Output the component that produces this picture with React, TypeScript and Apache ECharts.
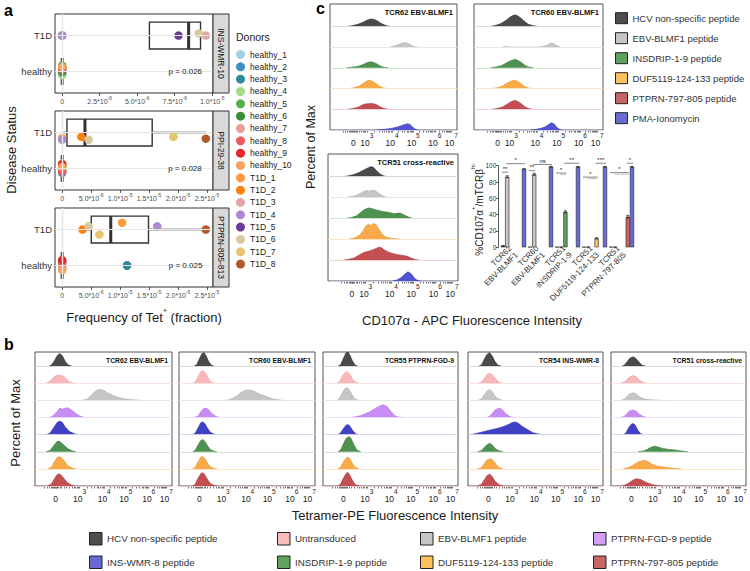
import React, { useEffect, useRef } from 'react';
import * as echarts from 'echarts';

const FONT = '"Liberation Sans", Arial, Helvetica, sans-serif';

/* ---------------- Panel a : Tet+ frequencies ---------------- */
const donorNames = ['healthy_1', 'healthy_2', 'healthy_3', 'healthy_4', 'healthy_5', 'healthy_6', 'healthy_7', 'healthy_8', 'healthy_9', 'healthy_10', 'T1D_1', 'T1D_2', 'T1D_3', 'T1D_4', 'T1D_5', 'T1D_6', 'T1D_7', 'T1D_8'];
const donorColors = ['#a6cee3', '#3f8fc5', '#2f8a9c', '#a3d98a', '#55b04a', '#3d8c3a', '#e89e96', '#ec5a5c', '#e3262a', '#f7a35c', '#fd9a3e', '#fa8010', '#e2a6a6', '#ab88d0', '#6a3d9a', '#d9c89f', '#e7c46f', '#b15928'];
const facetNames = ['INS-WMR-10', 'PPI-29-38', 'PTPRN-805-813'];
const facetPValues = ['p = 0.026', 'p = 0.028', 'p = 0.025'];
const pValueX = [8.2e-6, 2.12e-5, 2.13e-5];
const freqINS = [0, 0, 0, 0, 0, 0, 0, 0, 0, 0, null, null, 9.57e-6, 0, 7.75e-6, 9.1e-6, null, null];
const freqPPI = [0, 0, 0, 0, 0, 0, 0, 0, 0, 0, 0, 3.3e-6, null, 0, null, 4.56e-6, 1.92e-5, 2.48e-5];
const freqPTPRN = [0, 0, 1.12e-5, 0, 0, 0, 0, 0, 0, 0, 1.035e-5, 3.52e-6, null, 1.642e-5, null, 4.56e-6, 6.42e-6, 2.48e-5];
const jitterINS = [0.04, -0.06, 0.1, -0.1, 0.16, -0.02, 0.08, 0.06, 0.1, 0.12, 0, 0, 0, 0, 0, 0.06, 0, 0];
const jitterPPI = [0.1, -0.12, 0.05, 0.14, 0.07, -0.06, 0.02, -0.09, 0.12, 0.04, -0.15, -0.12, 0, -0.2, 0, -0.2, -0.12, -0.17];
const jitterPTPRN = [0.12, 0.08, 0, -0.05, 0.1, -0.1, -0.07, 0.05, 0.15, -0.13, 0.19, 0, 0, 0.09, 0, 0.09, -0.14, 0];
const ticksINS = [0, 2.5e-6, 5e-6, 7.5e-6, 1e-5];
const tickLabelsINS = ['0', '2.5*10^-6', '5.0*10^-6', '7.5*10^-6', '1.0*10^-5'];
const ticksPPI = [0, 5e-6, 1e-5, 1.5e-5, 2e-5, 2.5e-5];
const tickLabelsPPI = ['0', '5.0*10^-6', '1.0*10^-5', '1.5*10^-5', '2.0*10^-5', '2.5*10^-5'];

/* ---------------- flow histograms (x: % of panel width, h: fraction of row) ---------------- */
const flowLabels = ['0', '10^3', '10^4', '10^5', '10^6', '10^7'];
const cLabelPos = [18.3, 29, 48.8, 65.5, 82.5, 95.5];
const bLabelPos = [15, 32.5, 50.5, 66.3, 83, 95.8];

const cRowNames = ['HCV non-specific peptide', 'EBV-BLMF1 peptide', 'INSDRIP-1-9 peptide', 'DUF5119-124-133 peptide', 'PTPRN-797-805 peptide', 'PMA-Ionomycin'];
const bRowNames = ['HCV non-specific peptide', 'Untransduced', 'EBV-BLMF1 peptide', 'PTPRN-FGD-9 peptide', 'INS-WMR-8 peptide', 'INSDRIP-1-9 peptide', 'DUF5119-124-133 peptide', 'PTPRN-797-805 peptide'];
const cPanelTitles = ['TCR62 EBV-BLMF1', 'TCR60 EBV-BLMF1', 'TCR51 cross-reactive'];
const bPanelTitles = ['TCR62 EBV-BLMF1', 'TCR60 EBV-BLMF1', 'TCR55 PTPRN-FGD-9', 'TCR54 INS-WMR-8', 'TCR51 cross-reactive'];

// panel c, TCR62
const c62HCV = [[14, 0], [18, 0.04], [22, 0.1], [26, 0.2], [29, 0.3], [32, 0.36], [35, 0.33], [38, 0.24], [41, 0.12], [44, 0.04], [47, 0]];
const c62EBV = [[47, 0], [50, 0.04], [53, 0.1], [56, 0.17], [59, 0.21], [61, 0.19], [63, 0.12], [65, 0.05], [67, 0.01], [69, 0]];
const c62INS = [[13, 0], [17, 0.03], [20, 0.05], [23, 0.09], [26, 0.16], [29, 0.25], [32, 0.29], [34, 0.27], [37, 0.19], [40, 0.08], [43, 0.02], [46, 0]];
const c62DUF = [[15, 0], [19, 0.04], [23, 0.12], [26, 0.24], [29, 0.36], [31, 0.4], [33, 0.37], [36, 0.25], [39, 0.11], [42, 0.03], [45, 0]];
const c62PTP = [[14, 0], [18, 0.04], [22, 0.1], [25, 0.19], [27, 0.25], [30, 0.27], [33, 0.28], [36, 0.24], [38, 0.17], [41, 0.07], [44, 0.02], [46, 0]];
const c62PMA = [[37, 0], [41, 0.02], [45, 0.05], [49, 0.09], [53, 0.14], [56, 0.2], [59, 0.27], [61, 0.3], [63, 0.27], [65, 0.15], [67, 0.04], [69, 0]];
// panel c, TCR60
const c60HCV = [[13, 0], [17, 0.05], [21, 0.14], [25, 0.3], [28, 0.45], [31, 0.55], [33, 0.54], [36, 0.42], [39, 0.25], [42, 0.1], [46, 0.03], [49, 0]];
const c60EBV = [[22, 0], [25, 0.03], [28, 0], [50, 0], [54, 0.03], [57, 0.1], [59, 0.17], [61, 0.2], [63, 0.12], [65, 0.04], [67, 0]];
const c60INS = [[13, 0], [17, 0.04], [21, 0.1], [24, 0.2], [27, 0.3], [30, 0.38], [32, 0.4], [34, 0.36], [37, 0.25], [40, 0.1], [43, 0.03], [46, 0]];
const c60DUF = [[14, 0], [18, 0.04], [22, 0.12], [25, 0.24], [28, 0.34], [31, 0.4], [33, 0.38], [36, 0.26], [39, 0.11], [42, 0.03], [45, 0]];
const c60PTP = [[14, 0], [18, 0.04], [22, 0.11], [25, 0.22], [28, 0.34], [30, 0.4], [32, 0.42], [34, 0.38], [37, 0.25], [40, 0.1], [43, 0.02], [46, 0]];
const c60PMA = [[44, 0], [48, 0.03], [52, 0.08], [55, 0.15], [58, 0.27], [60, 0.35], [62, 0.3], [64, 0.15], [66, 0.04], [68, 0]];
// panel c, TCR51
const c51HCV = [[12, 0], [16, 0.04], [20, 0.1], [24, 0.2], [28, 0.33], [31, 0.42], [33, 0.47], [35, 0.44], [37, 0.3], [40, 0.12], [43, 0.03], [45, 0]];
const c51EBV = [[14, 0], [18, 0.04], [22, 0.1], [25, 0.2], [28, 0.3], [30, 0.33], [32, 0.3], [34, 0.35], [36, 0.33], [38, 0.25], [40, 0.15], [43, 0.04], [46, 0]];
const c51INS = [[14, 0], [18, 0.04], [22, 0.12], [25, 0.28], [28, 0.42], [31, 0.5], [33, 0.48], [36, 0.42], [39, 0.38], [42, 0.33], [45, 0.3], [48, 0.27], [51, 0.22], [54, 0.25], [56, 0.24], [59, 0.15], [62, 0.06], [65, 0]];
const c51DUF = [[16, 0], [20, 0.05], [24, 0.18], [27, 0.4], [29, 0.62], [31, 0.72], [33, 0.66], [35, 0.75], [37, 0.7], [39, 0.5], [41, 0.3], [44, 0.12], [48, 0.05], [52, 0.02], [56, 0]];
const c51PTP = [[12, 0], [16, 0.04], [20, 0.1], [24, 0.25], [28, 0.38], [31, 0.42], [34, 0.48], [37, 0.56], [39, 0.62], [41, 0.6], [43, 0.5], [46, 0.4], [49, 0.33], [52, 0.28], [55, 0.25], [58, 0.22], [61, 0.18], [64, 0.1], [67, 0.03], [70, 0]];
const c51PMA = [[50, 0], [53, 0.05], [56, 0.15], [59, 0.32], [61.5, 0.44], [64, 0.35], [66, 0.18], [68, 0.06], [71, 0]];

// panel b, TCR62
const b62HCV = [[10, 0], [12, 0.08], [14, 0.3], [16, 0.6], [18, 0.75], [20, 0.62], [22, 0.3], [24, 0.1], [27, 0]];
const b62UNT = [[7, 0], [10, 0.08], [13, 0.3], [15, 0.45], [17, 0.5], [19, 0.47], [21, 0.42], [23, 0.25], [25, 0.1], [28, 0.02], [30, 0]];
const b62EBV = [[34, 0], [38, 0.08], [41, 0.3], [44, 0.55], [47, 0.65], [50, 0.6], [53, 0.45], [57, 0.3], [61, 0.18], [65, 0.1], [70, 0.05], [76, 0.02], [79, 0]];
const b62FGD = [[10, 0], [13, 0.1], [16, 0.35], [18, 0.55], [20, 0.5], [22, 0.55], [24, 0.58], [26, 0.48], [29, 0.3], [32, 0.12], [35, 0.03], [37, 0]];
const b62WMR = [[8, 0], [11, 0.1], [14, 0.45], [16, 0.7], [18, 0.8], [20, 0.72], [22, 0.45], [25, 0.2], [28, 0.08], [31, 0]];
const b62INS = [[8, 0], [11, 0.08], [14, 0.4], [16, 0.6], [17.5, 0.63], [19, 0.55], [21, 0.4], [24, 0.18], [27, 0.06], [30, 0]];
const b62DUF = [[9, 0], [12, 0.1], [14, 0.4], [16, 0.65], [18, 0.72], [20, 0.6], [22, 0.4], [24, 0.18], [27, 0.05], [30, 0]];
const b62PTP = [[9, 0], [12, 0.12], [14, 0.4], [16, 0.65], [17.5, 0.72], [19, 0.65], [21, 0.45], [23, 0.25], [26, 0.08], [29, 0]];
// panel b, TCR60
const b60HCV = [[11, 0], [13, 0.1], [15, 0.45], [17, 0.75], [18.5, 0.8], [20, 0.6], [22, 0.25], [24, 0.06], [26, 0]];
const b60UNT = [[10, 0], [12, 0.1], [14, 0.4], [16, 0.7], [18, 0.75], [20, 0.55], [22, 0.25], [24, 0.06], [27, 0]];
const b60EBV = [[33, 0], [37, 0.05], [40, 0.15], [43, 0.3], [46, 0.48], [49, 0.6], [52, 0.62], [55, 0.55], [58, 0.42], [62, 0.3], [66, 0.18], [70, 0.08], [75, 0.02], [78, 0]];
const b60FGD = [[11, 0], [14, 0.1], [16, 0.35], [18, 0.52], [20, 0.56], [22, 0.45], [24, 0.25], [27, 0.08], [30, 0]];
const b60WMR = [[10, 0], [12, 0.1], [14, 0.4], [16, 0.7], [17.5, 0.75], [19, 0.65], [21, 0.38], [23, 0.15], [26, 0.03], [28, 0]];
const b60INS = [[10, 0], [12, 0.1], [14, 0.4], [16, 0.66], [17.5, 0.72], [19, 0.62], [21, 0.36], [23, 0.14], [26, 0.03], [28, 0]];
const b60DUF = [[10, 0], [12, 0.1], [14, 0.42], [16, 0.68], [17.5, 0.72], [19, 0.6], [21, 0.34], [23, 0.12], [26, 0.03], [28, 0]];
const b60PTP = [[10, 0], [12, 0.12], [14, 0.45], [16, 0.72], [17.5, 0.78], [19, 0.66], [21, 0.38], [23, 0.15], [26, 0.03], [28, 0]];
// panel b, TCR55
const b55HCV = [[11, 0], [13, 0.1], [15, 0.45], [17, 0.78], [18.5, 0.85], [20, 0.65], [22, 0.28], [24, 0.07], [26, 0]];
const b55UNT = [[10, 0], [12, 0.1], [14, 0.38], [16, 0.62], [18, 0.7], [20, 0.52], [22, 0.25], [24, 0.07], [27, 0]];
const b55EBV = [[10, 0], [12, 0.1], [14, 0.4], [16, 0.68], [18, 0.75], [20, 0.56], [22, 0.26], [24, 0.07], [27, 0]];
const b55FGD = [[20, 0], [24, 0.05], [28, 0.12], [32, 0.25], [36, 0.4], [39, 0.55], [42, 0.68], [44.5, 0.75], [47, 0.68], [49, 0.5], [51, 0.3], [53, 0.12], [56, 0.03], [60, 0]];
const b55WMR = [[11, 0], [13, 0.1], [15, 0.35], [17, 0.55], [18.5, 0.6], [20, 0.5], [22, 0.25], [24, 0.07], [26, 0]];
const b55INS = [[11, 0], [13, 0.1], [15, 0.45], [17, 0.78], [19.5, 0.9], [21, 0.75], [23, 0.4], [25, 0.12], [28, 0]];
const b55DUF = [[11, 0], [13, 0.1], [15, 0.4], [17, 0.62], [18.5, 0.7], [20, 0.58], [22, 0.3], [24, 0.08], [27, 0]];
const b55PTP = [[11, 0], [13, 0.12], [15, 0.45], [17, 0.72], [18.5, 0.8], [20, 0.62], [22, 0.3], [24, 0.08], [27, 0]];
// panel b, TCR54
const b54HCV = [[8, 0], [10, 0.1], [12, 0.4], [14, 0.7], [16, 0.8], [18, 0.6], [20, 0.28], [22, 0.08], [25, 0]];
const b54UNT = [[7, 0], [10, 0.08], [12, 0.3], [14, 0.52], [16.5, 0.6], [18.5, 0.48], [21, 0.22], [23, 0.07], [26, 0]];
const b54EBV = [[7, 0], [10, 0.08], [12, 0.32], [14, 0.55], [16, 0.65], [18, 0.52], [20, 0.25], [23, 0.07], [26, 0]];
const b54FGD = [[14, 0], [16, 0.08], [18, 0.25], [20, 0.45], [22, 0.53], [24, 0.55], [26, 0.42], [28, 0.22], [31, 0.06], [34, 0]];
const b54WMR = [[1, 0], [5, 0.05], [10, 0.15], [15, 0.25], [19, 0.32], [23, 0.4], [27, 0.5], [30, 0.6], [33, 0.72], [35, 0.75], [37, 0.68], [40, 0.5], [44, 0.3], [48, 0.12], [52, 0.04], [56, 0]];
const b54INS = [[7, 0], [10, 0.08], [12, 0.25], [14, 0.42], [16, 0.5], [18, 0.4], [20, 0.2], [23, 0.06], [26, 0]];
const b54DUF = [[7, 0], [10, 0.08], [12, 0.3], [14, 0.52], [16.5, 0.6], [18.5, 0.5], [21, 0.25], [23, 0.08], [26, 0]];
const b54PTP = [[7, 0], [10, 0.1], [12, 0.35], [14, 0.6], [16, 0.7], [18, 0.55], [20, 0.28], [23, 0.08], [26, 0]];
// panel b, TCR51
const b51HCV = [[8, 0], [10, 0.08], [12, 0.28], [14, 0.48], [16.5, 0.56], [18.5, 0.46], [21, 0.22], [23, 0.07], [26, 0]];
const b51UNT = [[7, 0], [10, 0.08], [12, 0.25], [14, 0.4], [16.5, 0.47], [19, 0.38], [21, 0.2], [24, 0.06], [27, 0]];
const b51EBV = [[7, 0], [10, 0.08], [12, 0.25], [14, 0.4], [16.5, 0.45], [19, 0.38], [21, 0.22], [24, 0.1], [28, 0.05], [33, 0.03], [38, 0.01], [41, 0]];
const b51FGD = [[7, 0], [10, 0.08], [12, 0.25], [14, 0.4], [16.5, 0.45], [19, 0.36], [21, 0.2], [24, 0.06], [27, 0]];
const b51WMR = [[9, 0], [11, 0.1], [13, 0.4], [15, 0.62], [16.5, 0.66], [18, 0.55], [20, 0.25], [22, 0.06], [24, 0]];
const b51INS = [[20, 0], [24, 0.05], [27, 0.15], [30, 0.28], [32.5, 0.33], [35, 0.28], [38, 0.2], [42, 0.15], [46, 0.12], [50, 0.08], [54, 0.03], [57, 0]];
const b51DUF = [[9, 0], [13, 0.08], [17, 0.25], [20, 0.4], [23, 0.48], [25, 0.5], [28, 0.4], [31, 0.25], [35, 0.15], [40, 0.1], [45, 0.05], [50, 0.01], [52, 0]];
const b51PTP = [[8, 0], [11, 0.08], [14, 0.22], [17, 0.38], [19, 0.42], [22, 0.38], [25, 0.25], [28, 0.15], [31, 0.08], [35, 0.02], [38, 0]];

const cCurves = [
  [c62HCV, c62EBV, c62INS, c62DUF, c62PTP, c62PMA],
  [c60HCV, c60EBV, c60INS, c60DUF, c60PTP, c60PMA],
  [c51HCV, c51EBV, c51INS, c51DUF, c51PTP, c51PMA],
];
const bCurves = [
  [b62HCV, b62UNT, b62EBV, b62FGD, b62WMR, b62INS, b62DUF, b62PTP],
  [b60HCV, b60UNT, b60EBV, b60FGD, b60WMR, b60INS, b60DUF, b60PTP],
  [b55HCV, b55UNT, b55EBV, b55FGD, b55WMR, b55INS, b55DUF, b55PTP],
  [b54HCV, b54UNT, b54EBV, b54FGD, b54WMR, b54INS, b54DUF, b54PTP],
  [b51HCV, b51UNT, b51EBV, b51FGD, b51WMR, b51INS, b51DUF, b51PTP],
];

/* ---------------- panel c bar chart ---------------- */
const barCats = ['TCR62\nEBV-BLMF1', 'TCR60\nEBV-BLMF1', 'TCR51\nINSDRIP-1-9', 'TCR51\nDUF5119-124-133', 'TCR51\nPTPRN-797-805'];
const barHCV = [1.8, 0.5, 0.5, 0.5, 0.5];
const barEBV = [86.5, 89.5, 0.5, 0.5, 0.5];
const barINS = [null, null, 43.6, null, null];
const barDUF = [null, null, null, 11, null];
const barPTP = [null, null, null, null, 37.5];
const barPMA = [96, 98.8, 98.8, 98.8, 98.8];
const errHCV = [0.3, 0, 0, 0, 0];
const errEBV = [1.2, 1.3, 0, 0, 0];
const errINS = [0, 0, 1.2, 0, 0];
const errDUF = [0, 0, 0, 0.8, 0];
const errPTP = [0, 0, 0, 0, 1.6];
const errPMA = [0.4, 0.3, 0.3, 0.3, 0.3];
// [group, fromBar, toBar, y, label, dark(1)/grey(0)]
const sigBrackets = [
  [0, 0, 1, 92, '**', 1], [0, 1, 5, 102.5, '*', 1],
  [1, 0, 1, 94, '**', 1], [1, 1, 5, 101.5, 'ns', 1],
  [2, 0, 2, 91, '*', 1], [2, 1, 2, 89, '', 0], [2, 2, 5, 103, '**', 1],
  [3, 0, 3, 86, '*', 1], [3, 1, 3, 84, '', 0], [3, 3, 5, 103, '***', 1],
  [4, 0, 4, 91.5, '*', 1], [4, 1, 4, 89.5, '', 0], [4, 4, 5, 103, '*', 1],
];

/* ---------------- styles ---------------- */
const condFill: Record<string, string> = {
  'HCV non-specific peptide': '#4a4a4a', 'EBV-BLMF1 peptide': '#c6c6c6', 'INSDRIP-1-9 peptide': '#4f9150',
  'DUF5119-124-133 peptide': '#f9aa48', 'PTPRN-797-805 peptide': '#c34f52', 'PMA-Ionomycin': '#5252d4',
  'Untransduced': '#f7b8b8', 'PTPRN-FGD-9 peptide': '#c98cf3', 'INS-WMR-8 peptide': '#4040c4',
};
const condEdge: Record<string, string> = {
  'HCV non-specific peptide': '#2a2a2a', 'EBV-BLMF1 peptide': '#a8a8a8', 'INSDRIP-1-9 peptide': '#3a783a',
  'DUF5119-124-133 peptide': '#e8912e', 'PTPRN-797-805 peptide': '#a63b3e', 'PMA-Ionomycin': '#3a3ab8',
  'Untransduced': '#eea3a3', 'PTPRN-FGD-9 peptide': '#b172e4', 'INS-WMR-8 peptide': '#2c2cac',
};
const condTint: Record<string, string> = {
  'HCV non-specific peptide': '#d6d6d6', 'EBV-BLMF1 peptide': '#e4e4e4', 'INSDRIP-1-9 peptide': '#cfe2cf',
  'DUF5119-124-133 peptide': '#fde2bf', 'PTPRN-797-805 peptide': '#efcdcd', 'PMA-Ionomycin': '#d2d2f4',
  'Untransduced': '#fbdede', 'PTPRN-FGD-9 peptide': '#ebdcfa', 'INS-WMR-8 peptide': '#d2d2f2',
};
const legendFill: Record<string, string> = {
  'HCV non-specific peptide': '#4d4d4d', 'EBV-BLMF1 peptide': '#c6c6c6', 'INSDRIP-1-9 peptide': '#5ea25e',
  'DUF5119-124-133 peptide': '#fbc25c', 'PTPRN-797-805 peptide': '#c66666', 'PMA-Ionomycin': '#6b6bd6',
  'Untransduced': '#f9bcbc', 'PTPRN-FGD-9 peptide': '#d49ef8', 'INS-WMR-8 peptide': '#6a6ad2',
};

function quantile(s: number[], p: number) {
  const pos = (s.length - 1) * p;
  const lo = Math.floor(pos), hi = Math.ceil(pos);
  return s[lo] + (s[hi] - s[lo]) * (pos - lo);
}
function boxStats(vals: number[]) {
  const s = [...vals].sort((a, b) => a - b);
  const q1 = quantile(s, 0.25), med = quantile(s, 0.5), q3 = quantile(s, 0.75);
  const iqr = q3 - q1;
  const inside = s.filter(v => v >= q1 - 1.5 * iqr && v <= q3 + 1.5 * iqr);
  const out = s.filter(v => v < q1 - 1.5 * iqr || v > q3 + 1.5 * iqr);
  return { q1, med, q3, lo: Math.min(...inside), hi: Math.max(...inside), out };
}
function supLabel(s: string) {
  const [a, b] = s.split('^');
  return b === undefined ? `{n|${a}}` : `{n|${a}}{s|${b}}`;
}
function flowTickValues(pos: number[]) {
  const out: number[] = [];
  const z = pos[0];
  [-8, -6, -4.5, -3.2, -2.2, -1.4, -0.7, 0, 0.7, 1.4, 2.2, 3.2, 4.5, 6].forEach(d => out.push(z + d));
  const d1 = pos[2] - pos[1];
  for (let m = 2; m <= 9; m++) { const v = pos[1] - d1 + d1 * Math.log10(m); if (v > z + 7) out.push(v); }
  for (let k = 1; k < pos.length; k++) {
    out.push(pos[k]);
    if (k < pos.length - 1) for (let m = 2; m <= 9; m++) out.push(pos[k] + (pos[k + 1] - pos[k]) * Math.log10(m));
  }
  return out.filter(v => v > 0.5 && v < 99.5);
}

function txt(x: number, y: number, text: string, size: number, o: any = {}) {
  const align = o.align || 'center', va = o.va || 'middle';
  return {
    type: 'text', x, y, rotation: o.rot || 0, silent: true, z: 100,
    style: {
      text, fontSize: size, fontFamily: FONT, fontWeight: o.bold ? 'bold' : 'normal', fill: o.color || '#1a1a1a',
      align, textAlign: align, verticalAlign: va, textVerticalAlign: va, rich: o.rich,
    },
  };
}

function buildOption() {
  const grids: any[] = [], xAxes: any[] = [], yAxes: any[] = [], series: any[] = [], graphics: any[] = [], legends: any[] = [];

  /* ----- panel a ----- */
  const aFreq = [freqINS, freqPPI, freqPTPRN];
  const aJit = [jitterINS, jitterPPI, jitterPTPRN];
  const aTicks = [ticksINS, ticksPPI, ticksPPI];
  const aLabels = [tickLabelsINS, tickLabelsPPI, tickLabelsPPI];
  const aTop = [14, 111, 208];
  const A_LEFT = 55, A_W = 158, A_H = 79, STRIP_W = 16;

  for (let f = 0; f < 3; f++) {
    const gi = grids.length;
    grids.push({ left: A_LEFT, top: aTop[f], width: A_W, height: A_H, show: true, backgroundColor: '#fff', borderColor: '#333', borderWidth: 1, outerBoundsMode: 'none' });
    const vals = aFreq[f].filter(v => v != null) as number[];
    const vmax = Math.max(...vals);
    const ticks = aTicks[f], labels = aLabels[f];
    const minor = ticks.slice(0, -1).map((t, i) => (t + ticks[i + 1]) / 2);
    xAxes.push({
      type: 'value', gridIndex: gi, min: -0.05 * vmax, max: 1.05 * vmax,
      axisLine: { show: false }, splitLine: { show: false },
      axisTick: { show: true, customValues: ticks, length: 3, lineStyle: { color: '#333', width: 0.8 } },
      axisLabel: {
        show: true, customValues: ticks, margin: 2, color: '#4d4d4d', fontFamily: FONT,
        formatter: (v: number) => { const i = ticks.findIndex(t => Math.abs(t - v) < vmax * 1e-6); return i < 0 ? '' : supLabel(labels[i]); },
        rich: {
          n: { fontSize: 7, lineHeight: 10, verticalAlign: 'bottom', color: '#4d4d4d', fontFamily: FONT },
          s: { fontSize: 5, lineHeight: 5, verticalAlign: 'top', color: '#4d4d4d', fontFamily: FONT },
        },
      },
    });
    yAxes.push({
      type: 'value', gridIndex: gi, min: 0.4, max: 2.6,
      axisLine: { show: false }, splitLine: { show: false },
      axisTick: { show: true, customValues: [1, 2], length: 3, lineStyle: { color: '#333', width: 0.8 } },
      axisLabel: { show: true, customValues: [1, 2], margin: 3, fontSize: 9.5, color: '#333', fontFamily: FONT, formatter: (v: number) => (v === 1 ? 'healthy' : 'T1D') },
    });
    series.push({
      type: 'scatter', xAxisIndex: gi, yAxisIndex: gi, data: [], silent: true, z: 1,
      markLine: {
        silent: true, symbol: ['none', 'none'], label: { show: false }, animation: false,
        data: [
          ...minor.map(v => ({ xAxis: v, lineStyle: { color: '#f0f0f0', width: 0.6, type: 'solid' } })),
          ...ticks.map(v => ({ xAxis: v, lineStyle: { color: '#e6e6e6', width: 1.1, type: 'solid' } })),
          { yAxis: 1, lineStyle: { color: '#e6e6e6', width: 1.1, type: 'solid' } },
          { yAxis: 2, lineStyle: { color: '#e6e6e6', width: 1.1, type: 'solid' } },
        ],
      },
    });
    const boxData: number[][] = [], outData: number[][] = [];
    ([[1, 0, 10], [2, 10, 18]] as number[][]).forEach(([cy, s, e]) => {
      const v = aFreq[f].slice(s, e).filter(x => x != null) as number[];
      const st = boxStats(v);
      boxData.push([cy, st.lo, st.q1, st.med, st.q3, st.hi]);
      st.out.forEach(o => outData.push([o, cy]));
    });
    series.push({
      type: 'custom', xAxisIndex: gi, yAxisIndex: gi, data: boxData, silent: true, z: 2, encode: { x: [1, 2, 3, 4, 5], y: 0 },
      renderItem: (params: any, api: any) => {
        const y = api.value(0);
        const lo = api.value(1), q1 = api.value(2), med = api.value(3), q3 = api.value(4), hi = api.value(5);
        const c = (v: number) => api.coord([v, y]);
        const half = Math.abs(api.size([0, 0.75])[1]) / 2;
        const cy = c(med)[1];
        const st = { stroke: '#333', lineWidth: 1.4 };
        const ch: any[] = [];
        if (lo < q1) ch.push({ type: 'line', shape: { x1: c(lo)[0], y1: cy, x2: c(q1)[0], y2: cy }, style: st });
        if (hi > q3) ch.push({ type: 'line', shape: { x1: c(q3)[0], y1: cy, x2: c(hi)[0], y2: cy }, style: st });
        ch.push({ type: 'rect', shape: { x: c(q1)[0], y: cy - half, width: c(q3)[0] - c(q1)[0], height: 2 * half }, style: { stroke: '#333', lineWidth: 1.4, fill: '#fff' } });
        ch.push({ type: 'line', shape: { x1: c(med)[0], y1: cy - half, x2: c(med)[0], y2: cy + half }, style: { stroke: '#333', lineWidth: 3 } });
        return { type: 'group', children: ch };
      },
    });
    series.push({ type: 'scatter', xAxisIndex: gi, yAxisIndex: gi, data: outData, symbolSize: 8.5, itemStyle: { color: '#1a1a1a' }, silent: true, z: 3 });
    donorNames.forEach((name, d) => {
      const v = aFreq[f][d];
      if (v == null) return;
      const g = d < 10 ? 1 : 2;
      series.push({ type: 'scatter', name, xAxisIndex: gi, yAxisIndex: gi, data: [[v, g + aJit[f][d]]], symbolSize: 8.5, itemStyle: { color: donorColors[d], opacity: 1 }, silent: true, z: 4 });
    });
    series.push({
      type: 'custom', xAxisIndex: gi, yAxisIndex: gi, data: [[pValueX[f], 1]], silent: true, z: 5,
      renderItem: (params: any, api: any) => {
        const p = api.coord([api.value(0), api.value(1)]);
        return { type: 'text', x: p[0], y: p[1], style: { text: facetPValues[f], fontSize: 8, fontFamily: FONT, fill: '#1a1a1a', align: 'center', textAlign: 'center', verticalAlign: 'middle', textVerticalAlign: 'middle' } };
      },
    });
    graphics.push({ type: 'rect', shape: { x: A_LEFT + A_W, y: aTop[f], width: STRIP_W, height: A_H }, style: { fill: '#d9d9d9', stroke: '#333', lineWidth: 1 }, silent: true, z: 99 });
    graphics.push(txt(A_LEFT + A_W + STRIP_W / 2, aTop[f] + A_H / 2, facetNames[f], 8.5, { rot: -Math.PI / 2 }));
  }
  legends.push({
    orient: 'vertical', left: 236, top: 50, itemWidth: 9, itemHeight: 9, itemGap: 3.33, icon: 'circle', selectedMode: false, padding: 0,
    textStyle: { fontSize: 8.5, color: '#1a1a1a', fontFamily: FONT },
    data: donorNames.map((n, i) => ({ name: n, itemStyle: { color: donorColors[i], borderWidth: 0 } })),
  });

  /* ----- flow panels ----- */
  const addFlowPanel = (rect: number[], rows: string[], curves: number[][][], ymax: number, labelPos: number[], title: string, titleSize: number) => {
    const gi = grids.length;
    grids.push({ left: rect[0], top: rect[1], width: rect[2], height: rect[3], show: true, backgroundColor: '#fff', borderColor: '#555', borderWidth: 1, outerBoundsMode: 'none' });
    const ticks = flowTickValues(labelPos);
    xAxes.push({
      type: 'value', gridIndex: gi, min: 0, max: 100, axisLine: { show: false }, splitLine: { show: false },
      axisTick: { show: true, customValues: ticks, length: 2.5, lineStyle: { color: '#333', width: 0.7 } },
      axisLabel: {
        show: true, customValues: labelPos, margin: 1.5, color: '#222', fontFamily: FONT, fontSize: 8.5,
        formatter: (v: number) => { const i = labelPos.findIndex(t => Math.abs(t - v) < 1e-6); return i < 0 ? '' : supLabel(flowLabels[i]); },
        rich: {
          n: { fontSize: 8.5, lineHeight: 16, verticalAlign: 'bottom', color: '#222', fontFamily: FONT },
          s: { fontSize: 6.5, lineHeight: 7, verticalAlign: 'top', color: '#222', fontFamily: FONT },
        },
      },
    });
    yAxes.push({ type: 'value', gridIndex: gi, min: 0, max: ymax, show: false });
    rows.forEach((name, r) => {
      const base = rows.length - 1 - r;
      series.push({
        type: 'line', name, xAxisIndex: gi, yAxisIndex: gi, silent: true, z: 3,
        data: curves[r].map(([x, h]) => [x, base + h]), symbol: 'none', showSymbol: false,
        color: condFill[name],
        lineStyle: { color: condEdge[name], width: 0.6 },
        areaStyle: { color: condFill[name], opacity: 1, origin: base },
        markLine: { silent: true, symbol: ['none', 'none'], label: { show: false }, animation: false, data: [{ yAxis: base, lineStyle: { color: condTint[name], width: 0.9, type: 'solid' } }] },
      });
    });
    graphics.push(txt(rect[0] + rect[2] - 4, rect[1] + 8.5, title, titleSize, { bold: true, align: 'right', color: '#111' }));
  };
  const cRects = [[330, 4, 127, 126], [474, 4, 129, 126], [328, 154, 130, 127]];
  cRects.forEach((r, i) => addFlowPanel(r, cRowNames, cCurves[i], 6.08, cLabelPos, cPanelTitles[i], 7.5));
  const bRects = [[35, 352, 137, 134], [179, 352, 136, 134], [323, 352, 135, 134], [468, 352, 135, 134], [611, 352, 135, 134]];
  bRects.forEach((r, i) => addFlowPanel(r, bRowNames, bCurves[i], 7.84, bLabelPos, bPanelTitles[i], 6.8));

  /* ----- panel c bar chart ----- */
  const bgi = grids.length;
  const CAT_GAP = 0.067;
  grids.push({ left: 500, top: 165.7, width: 135, height: 81.6, outerBoundsMode: 'none' });
  xAxes.push({ type: 'category', gridIndex: bgi, data: barCats, axisLine: { show: false }, axisTick: { show: false }, axisLabel: { rotate: 45, interval: 0, fontSize: 8, lineHeight: 9, color: '#333', margin: 3, fontFamily: FONT } });
  yAxes.push({
    type: 'value', gridIndex: bgi, min: 0, max: 100, interval: 20, offset: 1.7,
    axisLine: { show: true, lineStyle: { color: '#333', width: 0.8 } },
    axisTick: { show: true, length: 2.5, lineStyle: { color: '#333', width: 0.8 } },
    axisLabel: { fontSize: 6.5, color: '#333', margin: 2, fontFamily: FONT }, splitLine: { show: false },
  });
  const barVals = [barHCV, barEBV, barINS, barDUF, barPTP, barPMA];
  const barErrs = [errHCV, errEBV, errINS, errDUF, errPTP, errPMA];
  cRowNames.forEach((name, i) => series.push({
    type: 'bar', name, xAxisIndex: bgi, yAxisIndex: bgi, data: barVals[i], barGap: '0%', barCategoryGap: `${CAT_GAP * 100}%`,
    itemStyle: { color: legendFill[name], borderColor: '#222', borderWidth: 0.6 }, silent: true, z: 3,
  }));
  const slotX = (api: any, c: number, s: number) => {
    const band = api.size([1, 0])[0];
    const gw = band * (1 - CAT_GAP), sw = gw / 6;
    return { x: api.coord([c, 0])[0] - gw / 2 + sw * (s + 0.5), sw };
  };
  const errData: number[][] = [];
  barVals.forEach((arr, s) => arr.forEach((v, c) => { if (v != null && barErrs[s][c] > 0) errData.push([c, s, v as number, barErrs[s][c]]); }));
  series.push({
    type: 'custom', xAxisIndex: bgi, yAxisIndex: bgi, data: errData, silent: true, z: 4, encode: { x: 0, y: 2 },
    renderItem: (params: any, api: any) => {
      const c = api.value(0), s = api.value(1), v = api.value(2), e = api.value(3);
      const { x, sw } = slotX(api, c, s);
      const yt = api.coord([c, v + e])[1], yb = api.coord([c, v - e])[1];
      const cap = sw * 0.35, st = { stroke: '#222', lineWidth: 0.7 };
      return { type: 'group', children: [
        { type: 'line', shape: { x1: x, y1: yt, x2: x, y2: yb }, style: st },
        { type: 'line', shape: { x1: x - cap, y1: yt, x2: x + cap, y2: yt }, style: st },
        { type: 'line', shape: { x1: x - cap, y1: yb, x2: x + cap, y2: yb }, style: st },
      ] };
    },
  });
  series.push({
    type: 'custom', xAxisIndex: bgi, yAxisIndex: bgi, data: sigBrackets.map(b => [b[0], b[1], b[2], b[3]]), silent: true, z: 4, encode: { x: 0, y: 3 },
    renderItem: (params: any, api: any) => {
      const c = api.value(0), s1 = api.value(1), s2 = api.value(2), y = api.value(3);
      const b = sigBrackets[params.dataIndex];
      const a1 = slotX(api, c, s1), a2 = slotX(api, c, s2);
      const py = api.coord([c, y])[1];
      const color = b[5] ? '#333' : '#999';
      const ch: any[] = [{ type: 'line', shape: { x1: a1.x - 1, y1: py, x2: a2.x + 1, y2: py }, style: { stroke: color, lineWidth: 0.6 } }];
      if (b[4]) ch.push({ type: 'text', x: (a1.x + a2.x) / 2, y: py - 0.5, style: { text: b[4], fontSize: 6, fontFamily: FONT, fill: '#222', align: 'center', textAlign: 'center', verticalAlign: 'bottom', textVerticalAlign: 'bottom' } });
      return { type: 'group', children: ch };
    },
  });

  /* ----- legends c and b ----- */
  legends.push({
    orient: 'vertical', left: 615, top: 12.2, itemWidth: 12, itemHeight: 11, itemGap: 8, icon: 'rect', selectedMode: false, padding: 0,
    textStyle: { fontSize: 9.5, color: '#333', fontFamily: FONT },
    data: cRowNames.map(n => ({ name: n, itemStyle: { color: legendFill[n], borderColor: '#222', borderWidth: 1 } })),
  });
  const bLegendCols = [['HCV non-specific peptide', 'INS-WMR-8 peptide'], ['Untransduced', 'INSDRIP-1-9 peptide'], ['EBV-BLMF1 peptide', 'DUF5119-124-133 peptide'], ['PTPRN-FGD-9 peptide', 'PTPRN-797-805 peptide']];
  const bLegendLeft = [89, 277, 420, 593];
  bLegendCols.forEach((col, i) => legends.push({
    orient: 'vertical', left: bLegendLeft[i], top: 532, itemWidth: 12.5, itemHeight: 12.5, itemGap: 10, icon: 'rect', selectedMode: false, padding: 0,
    textStyle: { fontSize: 9.8, color: '#333', fontFamily: FONT },
    data: col.map(n => ({ name: n, itemStyle: { color: legendFill[n], borderColor: '#222', borderWidth: 1 } })),
  }));

  /* ----- free texts ----- */
  const supRich = (size: number, sup: number) => ({
    n: { fontSize: size, lineHeight: size + 4, verticalAlign: 'bottom', fill: '#1a1a1a', color: '#1a1a1a', fontFamily: FONT },
    s: { fontSize: sup, lineHeight: sup, verticalAlign: 'top', fill: '#1a1a1a', color: '#1a1a1a', fontFamily: FONT },
  });
  graphics.push(txt(4, 2, 'a', 16, { bold: true, align: 'left', va: 'top', color: '#000' }));
  graphics.push(txt(4, 336, 'b', 16, { bold: true, align: 'left', va: 'top', color: '#000' }));
  graphics.push(txt(316, 0, 'c', 16, { bold: true, align: 'left', va: 'top', color: '#000' }));
  graphics.push(txt(11, 150, 'Disease Status', 13, { rot: Math.PI / 2 }));
  graphics.push(txt(144, 315, '{n|Frequency of Tet}{s|+}{n| (fraction)}', 13, { rich: supRich(13, 7) }));
  graphics.push(txt(236, 37, 'Donors', 10.5, { align: 'left' }));
  graphics.push(txt(311, 147, 'Percent of Max', 12.5, { rot: Math.PI / 2 }));
  graphics.push(txt(472, 320, 'CD107α - APC Fluorescence Intensity', 13));
  graphics.push(txt(477, 210, '{n|%CD107α}{s|+}{n|/mTCRβ}{s|hi}', 10, { rot: Math.PI / 2, rich: supRich(10, 6) }));
  graphics.push(txt(15, 423, 'Percent of Max', 13, { rot: Math.PI / 2 }));
  graphics.push(txt(395, 515, 'Tetramer-PE Fluorescence Intensity', 13));

  return {
    animation: false,
    backgroundColor: '#fff',
    textStyle: { fontFamily: FONT },
    grid: grids, xAxis: xAxes, yAxis: yAxes, legend: legends, series,
    graphic: { elements: graphics },
  };
}

export default function App() {
  const ref = useRef<HTMLDivElement>(null);
  useEffect(() => {
    if (!ref.current) return;
    const chart = echarts.init(ref.current, undefined, { renderer: 'svg' });
    chart.setOption(buildOption() as any);
    return () => chart.dispose();
  }, []);
  return <div ref={ref} style={{ position: 'absolute', left: 0, top: 0, width: 750, height: 571, background: '#fff' }} />;
}
